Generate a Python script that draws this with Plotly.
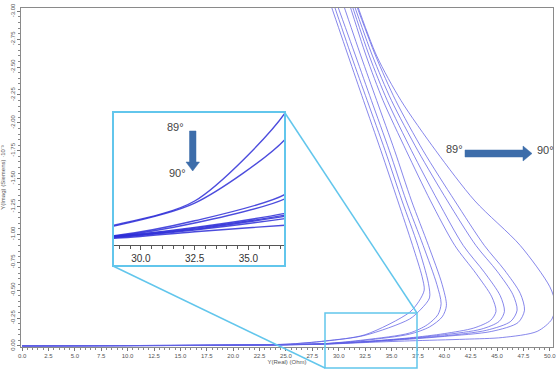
import plotly.graph_objects as go

# ---------------- data ----------------
x_ticks = [0.0, 2.5, 5.0, 7.5, 10.0, 12.5, 15.0, 17.5, 20.0, 22.5, 25.0, 27.5,
           30.0, 32.5, 35.0, 37.5, 40.0, 42.5, 45.0, 47.5, 50.0]
y_ticks = [0.0, -0.25, -0.5, -0.75, -1.0, -1.25, -1.5, -1.75, -2.0, -2.25,
           -2.5, -2.75, -3.0]
inset_x_ticks = [30.0, 32.5, 35.0]

c1_x = [0, 10, 20, 25, 28.75, 32.5, 36.7, 37.6, 38.1, 37.9, 37.0, 35.6, 34.0, 32.35, 30.9, 29.1]
c1_y = [0, -0.003, -0.008, -0.015, -0.045, -0.10, -0.30, -0.40, -0.50, -0.62, -0.9, -1.3, -1.75, -2.2, -2.6, -3.1]

c2_x = [0, 10, 20, 25, 28.75, 32.5, 36.7, 37.8, 38.6, 38.5, 37.5, 36.0, 34.4, 32.7, 31.2, 29.4]
c2_y = [0, -0.003, -0.008, -0.015, -0.043, -0.095, -0.24, -0.33, -0.43, -0.56, -0.9, -1.3, -1.75, -2.2, -2.6, -3.1]

c3_x = [0, 10, 20, 25, 28.75, 32.5, 36.7, 38.4, 39.4, 39.7, 39.3, 38.0, 36.4, 34.8, 33.1, 31.6, 29.7]
c3_y = [0, -0.003, -0.007, -0.012, -0.021, -0.055, -0.115, -0.19, -0.28, -0.38, -0.55, -0.9, -1.3, -1.75, -2.2, -2.6, -3.1]

c4_x = [0, 10, 20, 25, 28.75, 32.5, 36.7, 38.6, 39.8, 40.2, 39.8, 38.5, 36.9, 35.3, 33.6, 32.1, 30.3]
c4_y = [0, -0.003, -0.007, -0.012, -0.020, -0.05, -0.105, -0.17, -0.26, -0.36, -0.55, -0.9, -1.3, -1.75, -2.2, -2.6, -3.1]

c5_x = [0, 10, 20, 25, 28.75, 32.5, 36.7, 40.0, 42.8, 44.4, 44.9, 44.5, 43.0, 41.0, 38.7, 36.4, 34.2, 32.6, 30.9]
c5_y = [0, -0.002, -0.006, -0.011, -0.02, -0.04, -0.072, -0.11, -0.16, -0.23, -0.31, -0.44, -0.65, -0.9, -1.3, -1.75, -2.2, -2.6, -3.1]

c6_x = [0, 10, 20, 25, 28.75, 32.5, 36.7, 40.0, 43.5, 45.2, 45.7, 45.3, 43.8, 41.8, 39.4, 36.9, 34.6, 32.9, 31.1]
c6_y = [0, -0.002, -0.006, -0.011, -0.019, -0.038, -0.068, -0.10, -0.15, -0.22, -0.31, -0.45, -0.66, -0.9, -1.3, -1.75, -2.2, -2.6, -3.1]

c7_x = [0, 10, 20, 25, 28.75, 32.5, 36.7, 40.0, 44.0, 46.3, 46.9, 46.5, 45.0, 43.0, 40.3, 37.5, 35.0, 33.2, 31.3]
c7_y = [0, -0.002, -0.006, -0.010, -0.018, -0.036, -0.065, -0.09, -0.14, -0.22, -0.32, -0.46, -0.67, -0.9, -1.3, -1.75, -2.2, -2.6, -3.1]

c8_x = [0, 10, 20, 25, 28.75, 32.5, 36.7, 40.0, 44.5, 47.0, 47.6, 47.2, 45.7, 43.8, 41.0, 38.0, 35.4, 33.5, 31.5]
c8_y = [0, -0.002, -0.005, -0.010, -0.017, -0.034, -0.06, -0.085, -0.13, -0.21, -0.32, -0.47, -0.68, -0.9, -1.3, -1.75, -2.2, -2.6, -3.1]

c9_x = [0, 10, 20, 25, 28.75, 32.5, 36.7, 42.0, 45.5, 48.8, 50.2, 50.5, 50.0, 47.2, 42.9, 39.2, 35.9, 33.6, 31.6]
c9_y = [0, -0.002, -0.005, -0.009, -0.015, -0.03, -0.045, -0.06, -0.075, -0.13, -0.24, -0.38, -0.53, -0.9, -1.3, -1.75, -2.2, -2.6, -3.1]

curves = [(c1_x, c1_y), (c2_x, c2_y), (c3_x, c3_y), (c4_x, c4_y), (c5_x, c5_y),
          (c6_x, c6_y), (c7_x, c7_y), (c8_x, c8_y), (c9_x, c9_y)]

# ---------------- layout helpers ----------------
W, H = 558, 369
ML, MR, MT, MB = 21, 5, 8, 22
PW, PH = W - ML - MR, H - MT - MB


def px(x):
    return (x - ML) / PW


def py(y):
    return (H - MB - y) / PH


fig = go.Figure()

for cx, cy in curves:
    fig.add_trace(go.Scatter(x=cx, y=cy, mode="lines",
                             line=dict(color="rgba(95,95,228,0.75)", width=1, shape="spline", smoothing=0.8),
                             hoverinfo="skip", showlegend=False, xaxis="x", yaxis="y"))
for cx, cy in curves:
    fig.add_trace(go.Scatter(x=cx, y=cy, mode="lines",
                             line=dict(color="rgba(45,45,215,0.85)", width=1.4, shape="spline", smoothing=0.8),
                             hoverinfo="skip", showlegend=False, xaxis="x2", yaxis="y2"))

tickfont = dict(family="Liberation Sans, Arial", size=6, color="#555")
titlefont = dict(family="Liberation Sans, Arial", size=6, color="#555")

fig.update_layout(
    width=W, height=H,
    margin=dict(l=ML, r=MR, t=MT, b=MB, autoexpand=False),
    paper_bgcolor="white", plot_bgcolor="white",
    xaxis=dict(range=[-0.1, 50.3], tickvals=x_ticks, ticktext=[f"{v:.1f}" for v in x_ticks],
               automargin=False,
               showgrid=False, zeroline=False, showline=True, linecolor="#8a8a8a", linewidth=1,
               mirror=True, ticks="outside", ticklen=3, tickcolor="#777", tickfont=tickfont,
               minor=dict(ticks="outside", ticklen=2, dtick=0.5, tickcolor="#888"),
               title=dict(text="Y(Real) (Ohm)", font=titlefont, standoff=1)),
    yaxis=dict(range=[0.01, -3.03], tickvals=y_ticks, ticktext=[f"{v:.2f}" for v in y_ticks],
               automargin=False,
               showgrid=False, zeroline=False, showline=True, linecolor="#8a8a8a", linewidth=1,
               mirror=True, ticks="outside", ticklen=3, tickcolor="#777", tickfont=tickfont, tickangle=-90,
               minor=dict(ticks="outside", ticklen=2, dtick=0.05, tickcolor="#888"),
               title=dict(text="Y(Imag) (Siemens) ·10⁻³", font=titlefont, standoff=3)),
    xaxis2=dict(domain=[px(114), px(285)], anchor="y2", range=[28.75, 36.7], automargin=False,
                tickvals=inset_x_ticks, ticktext=[f"{v:.1f}" for v in inset_x_ticks],
                showgrid=False, zeroline=False, showline=True, linecolor="#555", linewidth=1.2,
                ticks="outside", ticklen=4, tickcolor="#555",
                minor=dict(ticks="outside", ticklen=3, dtick=0.5, tickcolor="#555"),
                tickfont=dict(family="Liberation Sans, Arial", size=10, color="#333")),
    yaxis2=dict(domain=[py(245), py(113)], anchor="x2", range=[0.0, -0.30], automargin=False,
                showgrid=False, zeroline=False, showline=False, showticklabels=False, ticks=""),
)

cyan = "#62C6EC"
shapes = [
    dict(type="rect", xref="paper", yref="paper", x0=px(113), x1=px(285), y0=py(266), y1=py(112),
         line=dict(color=cyan, width=2), fillcolor="rgba(0,0,0,0)"),
    dict(type="rect", xref="paper", yref="paper", x0=px(325), x1=px(417), y0=py(368), y1=py(313),
         line=dict(color=cyan, width=1.5), fillcolor="rgba(0,0,0,0)"),
    dict(type="line", xref="paper", yref="paper", x0=px(285), y0=py(113), x1=px(417), y1=py(313),
         line=dict(color=cyan, width=1.5)),
    dict(type="line", xref="paper", yref="paper", x0=px(113), y0=py(266), x1=px(325), y1=py(368),
         line=dict(color=cyan, width=1.5)),
]

arrow_col = "#3D6DAA"


def poly(points):
    d = "M " + " L ".join(f"{px(a):.5f},{py(b):.5f}" for a, b in points) + " Z"
    return dict(type="path", xref="paper", yref="paper", path=d, fillcolor=arrow_col,
                line=dict(color=arrow_col, width=0.5))


shapes.append(poly([(465, 150), (523, 150), (523, 146), (532, 153.5), (523, 161), (523, 157), (465, 157)]))
shapes.append(poly([(189.5, 131), (196, 131), (196, 162), (199.5, 162), (192.7, 171), (186, 162), (189.5, 162)]))

fig.update_layout(shapes=shapes)

afont = dict(family="Liberation Sans, Arial", size=11, color="#444")
for ax_, ay_, t in [(454, 149, "89°"), (545, 150, "90°"), (175, 127, "89°"), (177, 173, "90°")]:
    fig.add_annotation(x=px(ax_), y=py(ay_), xref="paper", yref="paper", text=t, showarrow=False,
                       font=afont, xanchor="center", yanchor="middle")

fig.write_html("out.html")
